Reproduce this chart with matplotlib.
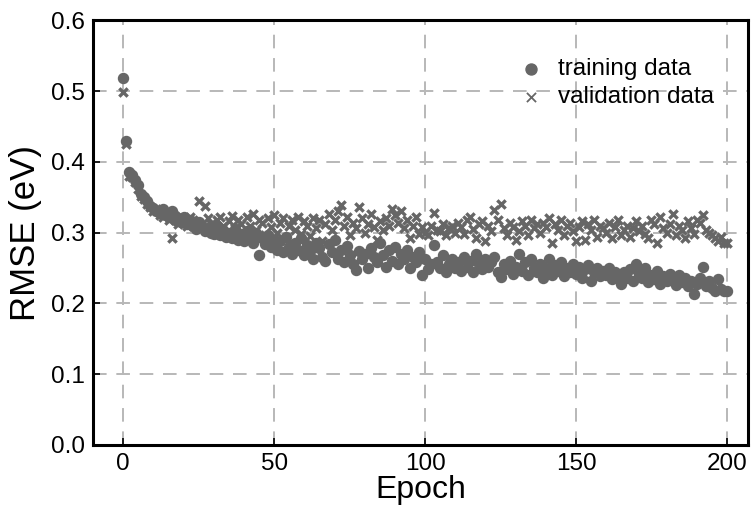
import numpy as np
import matplotlib
matplotlib.use('Agg')
import matplotlib.pyplot as plt

# RMSE per epoch
epochs = np.arange(0, 201)

train_rmse = [
    0.518, 0.430, 0.385, 0.382, 0.375, 0.368, 0.355, 0.350, 0.345, 0.338,
    0.335, 0.330, 0.328, 0.333, 0.325, 0.322, 0.330, 0.318, 0.320, 0.315,
    0.322, 0.312, 0.318, 0.310, 0.305, 0.315, 0.308, 0.302, 0.306, 0.300,
    0.298, 0.310, 0.296, 0.304, 0.294, 0.300, 0.292, 0.305, 0.290, 0.298,
    0.288, 0.302, 0.295, 0.286, 0.299, 0.268, 0.292, 0.284, 0.296, 0.280,
    0.290, 0.276, 0.288, 0.272, 0.294, 0.280, 0.270, 0.286, 0.275, 0.292,
    0.268, 0.282, 0.274, 0.263, 0.286, 0.278, 0.266, 0.260, 0.284, 0.272,
    0.290, 0.262, 0.276, 0.258, 0.281, 0.268, 0.255, 0.247, 0.274, 0.262,
    0.270, 0.250, 0.278, 0.265, 0.258, 0.286, 0.268, 0.252, 0.275, 0.260,
    0.280, 0.256, 0.270, 0.262, 0.276, 0.250, 0.266, 0.258, 0.272, 0.240,
    0.262, 0.248, 0.255, 0.282, 0.258, 0.250, 0.268, 0.245, 0.256, 0.262,
    0.250, 0.258, 0.246, 0.265, 0.252, 0.260, 0.244, 0.270, 0.255, 0.248,
    0.262, 0.252, 0.258, 0.266, 0.245, 0.237, 0.255, 0.248, 0.260, 0.242,
    0.252, 0.270, 0.246, 0.258, 0.240, 0.262, 0.250, 0.244, 0.256, 0.236,
    0.248, 0.262, 0.240, 0.254, 0.246, 0.258, 0.238, 0.250, 0.244, 0.256,
    0.242, 0.252, 0.236, 0.248, 0.254, 0.232, 0.244, 0.250, 0.238, 0.246,
    0.240, 0.250, 0.234, 0.245, 0.238, 0.228, 0.244, 0.236, 0.248, 0.232,
    0.255, 0.242, 0.236, 0.250, 0.230, 0.240, 0.234, 0.246, 0.228, 0.238,
    0.232, 0.242, 0.236, 0.226, 0.240, 0.230, 0.236, 0.224, 0.232, 0.213,
    0.228, 0.236, 0.251, 0.225, 0.232, 0.222, 0.218, 0.234, 0.220, 0.218,
    0.217,
]

val_rmse = [
    0.499, 0.425, 0.380, 0.378, 0.372, 0.362, 0.352, 0.348, 0.340, 0.336,
    0.330, 0.334, 0.325, 0.322, 0.328, 0.318, 0.292, 0.324, 0.312, 0.320,
    0.316, 0.310, 0.322, 0.318, 0.314, 0.345, 0.308, 0.337, 0.320, 0.312,
    0.305, 0.318, 0.322, 0.310, 0.300, 0.316, 0.324, 0.306, 0.318, 0.312,
    0.298, 0.322, 0.310, 0.326, 0.304, 0.318, 0.314, 0.296, 0.320, 0.308,
    0.325, 0.300, 0.314, 0.320, 0.292, 0.310, 0.318, 0.304, 0.322, 0.298,
    0.316, 0.310, 0.295, 0.320, 0.306, 0.318, 0.288, 0.312, 0.326, 0.304,
    0.318, 0.330, 0.339, 0.310, 0.322, 0.296, 0.314, 0.306, 0.336, 0.320,
    0.300, 0.312, 0.326, 0.308, 0.290, 0.316, 0.304, 0.320, 0.310, 0.333,
    0.325, 0.314, 0.330, 0.306, 0.318, 0.292, 0.310, 0.322, 0.298, 0.308,
    0.300, 0.296, 0.310, 0.328, 0.304, 0.302, 0.312, 0.296, 0.306, 0.310,
    0.300, 0.314, 0.308, 0.298, 0.318, 0.322, 0.305, 0.292, 0.312, 0.316,
    0.288, 0.310, 0.302, 0.332, 0.318, 0.340, 0.306, 0.296, 0.314, 0.308,
    0.290, 0.302, 0.316, 0.310, 0.296, 0.318, 0.306, 0.312, 0.300, 0.314,
    0.308, 0.320, 0.285, 0.312, 0.304, 0.318, 0.296, 0.310, 0.314, 0.302,
    0.288, 0.308, 0.316, 0.290, 0.312, 0.304, 0.318, 0.294, 0.310, 0.306,
    0.300, 0.314, 0.292, 0.308, 0.318, 0.296, 0.304, 0.310, 0.294, 0.306,
    0.316, 0.302, 0.310, 0.298, 0.292, 0.318, 0.312, 0.286, 0.322, 0.306,
    0.300, 0.312, 0.326, 0.296, 0.310, 0.304, 0.292, 0.316, 0.306, 0.298,
    0.318, 0.314, 0.325, 0.304, 0.300, 0.296, 0.292, 0.288, 0.294, 0.285,
    0.286,
]

plt.rcParams['font.family'] = ['Liberation Sans', 'DejaVu Sans']

fig = plt.figure(figsize=(7.51, 5.09), dpi=100)
ax = fig.add_axes([0.124, 0.126, 0.872, 0.834])

gray = '#666666'
ax.scatter(epochs, train_rmse, s=52, marker='o', color=gray, label='training data', zorder=3)
ax.scatter(epochs, val_rmse, s=36, marker='x', color=gray, linewidths=2.4, label='validation data', zorder=3)

ax.set_xlim(-10, 207)
ax.set_ylim(0, 0.6)
ax.set_xticks([0, 50, 100, 150, 200])
ax.set_yticks(np.arange(0, 0.61, 0.1))
ax.set_yticklabels(['%.1f' % v for v in np.arange(0, 0.61, 0.1)])

# dashed light-gray grid
ax.grid(True, color='#b8b8b8', linestyle=(0, (7, 5)), linewidth=1.4)
ax.set_axisbelow(True)

for sp in ax.spines.values():
    sp.set_linewidth(2.2)
    sp.set_color('black')
ax.tick_params(direction='in', length=5, width=1.2, labelsize=17.5, pad=6)

ax.set_xlabel('Epoch', fontsize=23, labelpad=0)
ax.set_ylabel('RMSE (eV)', fontsize=25, labelpad=6)

leg = ax.legend(loc='upper right', frameon=False, fontsize=17.5, handletextpad=0.1,
                borderaxespad=0.6, labelspacing=0.25, markerscale=1.1,
                bbox_to_anchor=(0.985, 0.968))
leg.legend_handles[1].set_linewidth(1.3)

fig.savefig('out.png', dpi=100)
